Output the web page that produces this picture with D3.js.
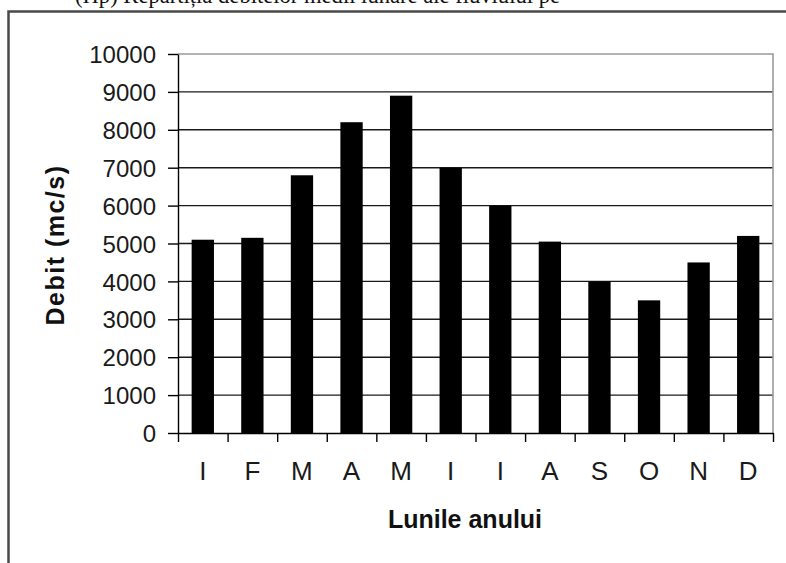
<!DOCTYPE html>
<html>
<head>
<meta charset="utf-8">
<script src="https://cdn.jsdelivr.net/npm/d3@7"></script>
<style>
    body { margin: 0; background: #fff; }
    svg { display: block; }
    .tick text { font-family: Arial, "Liberation Sans", sans-serif; fill: #1a1a1a; }
</style>
</head>
<body>
<div id="chart"></div>
<script>
// data
var months = ["I", "F", "M", "A", "M", "I", "I", "A", "S", "O", "N", "D"];
var debit = [5100, 5150, 6800, 8200, 8900, 7000, 6000, 5050, 4000, 3500, 4500, 5200];
var yTicks = [0, 1000, 2000, 3000, 4000, 5000, 6000, 7000, 8000, 9000, 10000];

var width = 786, height = 563;
var plot = {left: 178, right: 773, top: 54, bottom: 433};

var svg = d3.select("#chart").append("svg")
    .attr("width", width)
    .attr("height", height);

// caption line of the page, cut by the top edge (as in the scan)
svg.append("text")
    .attr("x", 75)
    .attr("y", 3)
    .attr("textLength", 485)
    .attr("lengthAdjust", "spacingAndGlyphs")
    .style("font-family", "'Liberation Serif', 'Times New Roman', serif")
    .style("font-size", "24px")
    .attr("fill", "#111")
    .text("(Hp) Repartiția debitelor medii lunare ale fluviului pe");

// outer frame (only left and top are visible)
svg.append("path")
    .attr("d", "M8.5," + height + " V11.5 H" + width)
    .attr("fill", "none")
    .attr("stroke", "#4a4a4a")
    .attr("stroke-width", 2.5);

// scales
var x = d3.scaleBand()
    .domain(d3.range(months.length))
    .range([plot.left, plot.right])
    .paddingInner(0.55)
    .paddingOuter(0.275);

var xEdges = d3.scaleLinear()
    .domain([0, months.length])
    .range([plot.left, plot.right]);

var y = d3.scaleLinear()
    .domain([0, 10000])
    .range([plot.bottom, plot.top]);

// gridlines
svg.append("g").selectAll("line")
    .data(yTicks.filter(function (d) { return d > 0 && d < 10000; }))
    .enter().append("line")
    .attr("x1", plot.left)
    .attr("x2", plot.right)
    .attr("y1", function (d) { return y(d); })
    .attr("y2", function (d) { return y(d); })
    .attr("stroke", "#1a1a1a")
    .attr("stroke-width", 1.4);

// plot area border top / right (grey)
svg.append("path")
    .attr("d", "M" + plot.left + "," + y(10000) + " H" + plot.right + " V" + plot.bottom)
    .attr("fill", "none")
    .attr("stroke", "#9a9a9a")
    .attr("stroke-width", 1.6);

// bars
svg.append("g").selectAll("rect")
    .data(debit)
    .enter().append("rect")
    .attr("x", function (d, i) { return x(i); })
    .attr("width", x.bandwidth())
    .attr("y", function (d) { return y(d); })
    .attr("height", function (d) { return y(0) - y(d); })
    .attr("fill", "#000");

// y axis
var yAxis = svg.append("g")
    .attr("transform", "translate(" + plot.left + ",0)")
    .call(d3.axisLeft(y).tickValues(yTicks).tickFormat(d3.format("d"))
        .tickSize(10).tickPadding(12).tickSizeOuter(0));
yAxis.selectAll("text").style("font-size", "24px").attr("dy", "0.36em");
yAxis.selectAll("line, path").attr("stroke", "#000").attr("stroke-width", 1.4);

// x axis: ticks on band edges
var xAxis = svg.append("g")
    .attr("transform", "translate(0," + plot.bottom + ")")
    .call(d3.axisBottom(xEdges).tickValues(d3.range(months.length + 1)).tickSize(9).tickFormat("").tickSizeOuter(0));
xAxis.selectAll("line, path").attr("stroke", "#000").attr("stroke-width", 1.4);

// month labels
svg.append("g").selectAll("text")
    .data(months)
    .enter().append("text")
    .attr("x", function (d, i) { return x(i) + x.bandwidth() / 2; })
    .attr("y", 480)
    .attr("text-anchor", "middle")
    .style("font-family", "Arial, 'Liberation Sans', sans-serif")
    .style("font-size", "26px")
    .attr("fill", "#1a1a1a")
    .text(function (d) { return d; });

// axis titles
svg.append("text")
    .attr("x", 465)
    .attr("y", 528)
    .attr("text-anchor", "middle")
    .style("font-family", "Arial, 'Liberation Sans', sans-serif")
    .style("font-size", "25px")
    .style("font-weight", "bold")
    .attr("fill", "#111")
    .text("Lunile anului");

svg.append("text")
    .attr("transform", "translate(64,245) rotate(-90)")
    .attr("text-anchor", "middle")
    .style("font-family", "Arial, 'Liberation Sans', sans-serif")
    .style("font-size", "25px")
    .style("font-weight", "bold")
    .style("letter-spacing", "1.5px")
    .attr("fill", "#111")
    .text("Debit (mc/s)");
</script>
</body>
</html>
